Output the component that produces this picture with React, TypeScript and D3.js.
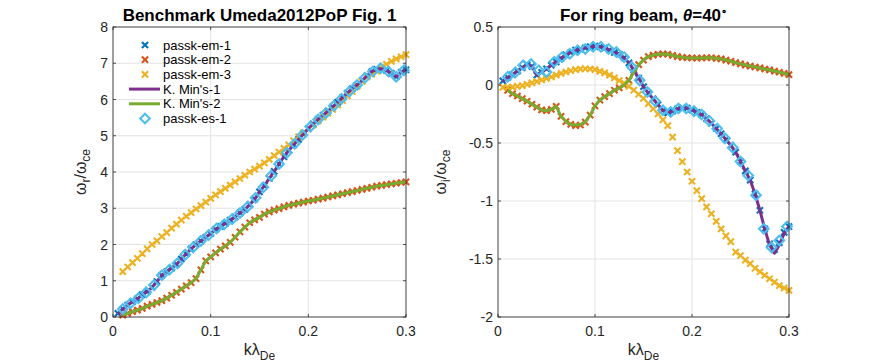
import * as d3 from "d3";

// k grid shared by the passk-em runs and K. Min's curves
const K = [
  0.005, 0.01, 0.015, 0.02, 0.025, 0.03, 0.035, 0.04, 0.045, 0.05,
  0.055, 0.06, 0.065, 0.07, 0.075, 0.08, 0.085, 0.09, 0.095, 0.1,
  0.105, 0.11, 0.115, 0.12, 0.125, 0.13, 0.135, 0.14, 0.145, 0.15,
  0.155, 0.16, 0.165, 0.17, 0.175, 0.18, 0.185, 0.19, 0.195, 0.2,
  0.205, 0.21, 0.215, 0.22, 0.225, 0.23, 0.235, 0.24, 0.245, 0.25,
  0.255, 0.26, 0.265, 0.27, 0.275, 0.28, 0.285, 0.29, 0.295, 0.3,
];
// k grid of the passk-es run
const KD = [
  0.01, 0.018, 0.026, 0.034, 0.042, 0.05, 0.058, 0.066, 0.074, 0.082,
  0.09, 0.098, 0.106, 0.114, 0.122, 0.13, 0.138, 0.146, 0.154, 0.162,
  0.17, 0.178, 0.186, 0.194, 0.202, 0.21, 0.218, 0.226, 0.234, 0.242,
  0.25, 0.258, 0.266, 0.274, 0.282, 0.29, 0.298,
];

// ---- real part, w_r / w_ce ----
const WR_EM1 = [
  0.1, 0.22, 0.33, 0.42, 0.5, 0.62, 0.7, 0.82, 0.98, 1.15,
  1.25, 1.35, 1.45, 1.6, 1.75, 1.88, 2.0, 2.1, 2.2, 2.3,
  2.42, 2.5, 2.58, 2.67, 2.76, 2.87, 2.97, 3.1, 3.25, 3.45,
  3.62, 3.82, 4.02, 4.22, 4.42, 4.6, 4.75, 4.9, 5.05, 5.2,
  5.33, 5.45, 5.56, 5.68, 5.8, 5.92, 6.05, 6.18, 6.3, 6.4,
  6.52, 6.65, 6.77, 6.83, 6.85, 6.8, 6.72, 6.63, 6.75, 6.82,
];
const WR_EM2 = [
  null, 0.05, 0.1, 0.15, 0.19, 0.24, 0.3, 0.35, 0.4, 0.45,
  0.52, 0.6, 0.68, 0.77, 0.86, 0.95, 1.06, 1.3, 1.55, 1.66,
  1.77, 1.87, 1.96, 2.06, 2.2, 2.35, 2.48, 2.6, 2.68, 2.75,
  2.84, 2.9, 2.95, 2.99, 3.04, 3.08, 3.11, 3.14, 3.17, 3.2,
  3.22, 3.25, 3.28, 3.31, 3.34, 3.37, 3.4, 3.43, 3.46, 3.49,
  3.52, 3.55, 3.58, 3.61, 3.63, 3.65, 3.67, 3.69, 3.71, 3.73,
];
const WR_EM3 = [
  null, 1.25, 1.38, 1.5, 1.62, 1.75, 1.88, 2.0, 2.1, 2.22,
  2.33, 2.45, 2.56, 2.67, 2.78, 2.88, 2.98, 3.07, 3.17, 3.27,
  3.37, 3.46, 3.55, 3.64, 3.73, 3.82, 3.91, 4.0, 4.08, 4.16,
  4.25, 4.35, 4.45, 4.55, 4.65, 4.75, 4.86, 4.97, 5.08, 5.19,
  5.3, 5.41, 5.51, 5.62, 5.73, 5.85, 5.97, 6.1, 6.22, 6.36,
  6.5, 6.62, 6.7, 6.78, 6.88, 6.97, 7.05, 7.12, 7.18, 7.24,
];
const WR_MIN1 = [
  0.08, 0.22, 0.33, 0.42, 0.5, 0.62, 0.7, 0.82, 0.98, 1.15,
  1.25, 1.35, 1.45, 1.6, 1.75, 1.88, 2.0, 2.1, 2.2, 2.3,
  2.42, 2.5, 2.58, 2.67, 2.76, 2.87, 2.97, 3.1, 3.25, 3.45,
  3.62, 3.82, 4.02, 4.22, 4.42, 4.6, 4.75, 4.9, 5.05, 5.2,
  5.33, 5.45, 5.56, 5.68, 5.8, 5.92, 6.05, 6.18, 6.3, 6.4,
  6.52, 6.65, 6.77, 6.83, 6.85, 6.8, 6.72, 6.63, 6.75, 6.82,
];
const WR_MIN2 = [
  null, 0.05, 0.1, 0.15, 0.19, 0.24, 0.3, 0.35, 0.4, 0.45,
  0.52, 0.6, 0.68, 0.77, 0.86, 0.95, 1.06, 1.3, 1.55, 1.66,
  1.77, 1.87, 1.96, 2.06, 2.2, 2.35, 2.48, 2.6, 2.68, 2.75,
  2.84, 2.9, 2.95, 2.99, 3.04, 3.08, 3.11, 3.14, 3.17, 3.2,
  3.22, 3.25, 3.28, 3.31, 3.34, 3.37, 3.4, 3.43, 3.46, 3.49,
  3.52, 3.55, 3.58, 3.61, 3.63, 3.65, 3.67, 3.69, 3.71, 3.73,
];
const WR_ES1 = [
  0.22, 0.38, 0.52, 0.68, 0.88, 1.15, 1.31, 1.48, 1.72, 1.92,
  2.1, 2.26, 2.44, 2.56, 2.7, 2.87, 3.05, 3.29, 3.58, 3.9,
  4.22, 4.53, 4.78, 5.02, 5.25, 5.45, 5.63, 5.82, 6.02, 6.22,
  6.4, 6.6, 6.77, 6.86, 6.77, 6.63, 6.81,
];

// ---- imaginary part, w_i / w_ce ----
const WI_EM1 = [
  0.035, 0.065, 0.09, 0.12, 0.15, 0.175, 0.16, 0.085, 0.11, 0.14,
  0.17, 0.2, 0.23, 0.26, 0.28, 0.3, 0.31, 0.32, 0.33, 0.335,
  0.33, 0.32, 0.3, 0.28, 0.265, 0.235, 0.19, 0.13, 0.06, -0.015,
  -0.07, -0.12, -0.17, -0.22, -0.24, -0.225, -0.205, -0.195, -0.2, -0.215,
  -0.235, -0.255, -0.29, -0.33, -0.375, -0.42, -0.47, -0.52, -0.58, -0.66,
  -0.74, -0.82, -0.94, -1.08, -1.24, -1.37, -1.42, -1.36, -1.27, -1.22,
];
const WI_EM2 = [
  null, -0.046, -0.075, -0.095, -0.117, -0.14, -0.166, -0.19, -0.215, -0.222,
  -0.21, -0.185, -0.27, -0.315, -0.34, -0.35, -0.345, -0.32, -0.26, -0.18,
  -0.13, -0.1, -0.075, -0.045, -0.025, 0.0, 0.04, 0.11, 0.175, 0.215,
  0.245, 0.258, 0.265, 0.268, 0.265, 0.255, 0.245, 0.238, 0.235, 0.233,
  0.232, 0.233, 0.235, 0.235, 0.23, 0.225, 0.215, 0.205, 0.193, 0.182,
  0.172, 0.163, 0.155, 0.147, 0.138, 0.13, 0.12, 0.11, 0.1, 0.09,
];
const WI_EM3 = [
  -0.02, -0.02, -0.018, -0.012, -0.005, 0.005, 0.018, 0.03, 0.043, 0.057,
  0.07, 0.085, 0.1, 0.112, 0.123, 0.132, 0.138, 0.14, 0.138, 0.133,
  0.118, 0.105, 0.085, 0.062, 0.038, 0.015, -0.012, -0.045, -0.08, -0.115,
  -0.16, -0.205, -0.25, -0.3, -0.35, -0.45, -0.565, -0.66, -0.75, -0.83,
  -0.91, -0.98, -1.05, -1.11, -1.175, -1.24, -1.3, -1.35, -1.44, -1.47,
  -1.51, -1.54, -1.58, -1.61, -1.64, -1.67, -1.7, -1.73, -1.75, -1.77,
];
const WI_MIN1 = [
  0.03, 0.065, 0.09, 0.12, 0.15, 0.175, 0.16, 0.085, 0.11, 0.14,
  0.17, 0.2, 0.23, 0.26, 0.28, 0.3, 0.31, 0.32, 0.33, 0.335,
  0.33, 0.32, 0.3, 0.28, 0.265, 0.235, 0.19, 0.13, 0.06, -0.015,
  -0.07, -0.12, -0.17, -0.22, -0.24, -0.225, -0.205, -0.195, -0.2, -0.215,
  -0.235, -0.255, -0.29, -0.33, -0.375, -0.42, -0.47, -0.52, -0.58, -0.66,
  -0.74, -0.82, -0.94, -1.08, -1.24, -1.38, -1.45, -1.38, -1.28, -1.22,
];
const WI_MIN2 = [
  null, -0.046, -0.075, -0.095, -0.117, -0.14, -0.166, -0.19, -0.215, -0.222,
  -0.21, -0.185, -0.27, -0.315, -0.34, -0.345, -0.34, -0.315, -0.26, -0.18,
  -0.13, -0.1, -0.075, -0.045, -0.025, 0.0, 0.04, 0.11, 0.175, 0.215,
  0.245, 0.258, 0.265, 0.268, 0.265, 0.255, 0.245, 0.238, 0.235, 0.233,
  0.232, 0.233, 0.235, 0.235, 0.23, 0.225, 0.215, 0.205, 0.193, 0.182,
  0.172, 0.163, 0.155, 0.147, 0.138, 0.13, 0.12, 0.11, 0.1, 0.09,
];
const WI_ES1 = [
  0.07, 0.11, 0.17, 0.18, 0.127, 0.112, 0.2, 0.24, 0.27, 0.3,
  0.31, 0.33, 0.33, 0.31, 0.285, 0.24, 0.155, 0.04, -0.06, -0.14,
  -0.218, -0.233, -0.203, -0.203, -0.225, -0.255, -0.31, -0.376, -0.46, -0.54,
  -0.66, -0.78, -0.95, -1.24, -1.4, -1.34, -1.22,
];

const LEGEND = ["passk-em-1", "passk-em-2", "passk-em-3", "K. Min's-1", "K. Min's-2", "passk-es-1"];
const X_TICKS = [0, 0.1, 0.2, 0.3];
const YR_TICKS = [0, 1, 2, 3, 4, 5, 6, 7, 8];
const YI_TICKS = [-2, -1.5, -1, -0.5, 0, 0.5];

const C = {
  blue: "#0072BD",
  orange: "#D95319",
  yellow: "#EDB120",
  purple: "#7E2F8E",
  green: "#77AC30",
  cyan: "#4DBEEE",
};
const AX = "#262626";
const FONT = "'Liberation Sans', Arial, Helvetica, sans-serif";
const TOP = 27;
const BOTTOM = 317;

type Series = { kind: "x" | "line" | "diamond"; color: string; xs: number[]; ys: (number | null)[] };

const crossPath = (s: number) => `M${-s},${-s}L${s},${s}M${-s},${s}L${s},${-s}`;
const diamondPath = (s: number) => `M0,${-s}L${s},0L0,${s}L${-s},0Z`;

function markerPath(kind: Series["kind"]) {
  return kind === "x" ? crossPath(3.1) : diamondPath(4.8);
}

function Marks({ s, x, y }: { s: Series; x: d3.ScaleLinear<number, number>; y: d3.ScaleLinear<number, number> }) {
  const pts = s.xs.map((k, i) => [k, s.ys[i]] as [number, number | null]);
  if (s.kind === "line") {
    const line = d3
      .line<[number, number | null]>()
      .defined((d) => d[1] != null)
      .x((d) => x(d[0]))
      .y((d) => y(d[1] as number));
    return <path d={line(pts) || ""} fill="none" stroke={s.color} strokeWidth={3} strokeLinejoin="round" />;
  }
  return (
    <g>
      {pts
        .filter((d) => d[1] != null)
        .map((d, i) => (
          <path
            key={i}
            transform={`translate(${x(d[0])},${y(d[1] as number)})`}
            d={markerPath(s.kind)}
            fill="none"
            stroke={s.color}
            strokeWidth={2.1}
          />
        ))}
    </g>
  );
}

function Panel(props: {
  left: number;
  right: number;
  domain: [number, number];
  ticks: number[];
  series: Series[];
  title: React.ReactNode;
  sub: string;
  ylabX: number;
  legend?: boolean;
}) {
  const { left, right, domain, ticks, series } = props;
  const x = d3.scaleLinear().domain([0, 0.3]).range([left, right]);
  const y = d3.scaleLinear().domain(domain).range([BOTTOM, TOP]);
  const cx = (left + right) / 2;
  const cy = (TOP + BOTTOM) / 2;
  const tl = 3;
  return (
    <g fontFamily={FONT}>
      {/* grid */}
      {X_TICKS.map((t) => (
        <line key={"gx" + t} x1={x(t)} x2={x(t)} y1={TOP} y2={BOTTOM} stroke="#e3e3e3" strokeWidth={1} />
      ))}
      {ticks.map((t) => (
        <line key={"gy" + t} x1={left} x2={right} y1={y(t)} y2={y(t)} stroke="#e3e3e3" strokeWidth={1} />
      ))}
      {series.map((s, i) => (
        <Marks key={i} s={s} x={x} y={y} />
      ))}
      {/* box and ticks */}
      <rect x={left} y={TOP} width={right - left} height={BOTTOM - TOP} fill="none" stroke={AX} strokeWidth={0.8} />
      {X_TICKS.map((t) => (
        <g key={"tx" + t}>
          <line x1={x(t)} x2={x(t)} y1={BOTTOM} y2={BOTTOM - tl} stroke={AX} strokeWidth={0.8} />
          <line x1={x(t)} x2={x(t)} y1={TOP} y2={TOP + tl} stroke={AX} strokeWidth={0.8} />
          <text x={x(t)} y={BOTTOM + 19} textAnchor="middle" fontSize={14} fill={AX}>
            {String(t)}
          </text>
        </g>
      ))}
      {ticks.map((t) => (
        <g key={"ty" + t}>
          <line x1={left} x2={left + tl} y1={y(t)} y2={y(t)} stroke={AX} strokeWidth={0.8} />
          <line x1={right} x2={right - tl} y1={y(t)} y2={y(t)} stroke={AX} strokeWidth={0.8} />
          <text x={left - 5} y={y(t)} dy="0.36em" textAnchor="end" fontSize={14} fill={AX}>
            {String(t)}
          </text>
        </g>
      ))}
      {/* title */}
      <text x={cx} y={21} textAnchor="middle" fontSize={17} fontWeight="bold" fill="#000">
        {props.title}
      </text>
      {/* x label */}
      <text x={cx} y={355} textAnchor="middle" fontSize={16} fill={AX}>
        kλ<tspan dy={5} fontSize={12}>De</tspan>
      </text>
      {/* y label */}
      <text transform={`translate(${props.ylabX},${cy}) rotate(-90)`} textAnchor="middle" fontSize={16} fill={AX}>
        ω<tspan dy={4} fontSize={12}>{props.sub}</tspan>
        <tspan dy={-4}>/ω</tspan>
        <tspan dy={4} fontSize={12}>ce</tspan>
      </text>
      {props.legend && (
        <g>
          {LEGEND.map((name, i) => {
            const s = series[i];
            const ly = 45 + i * 14.7;
            return (
              <g key={name}>
                {s.kind === "line" ? (
                  <line x1={129} x2={160} y1={ly} y2={ly} stroke={s.color} strokeWidth={3} />
                ) : (
                  <path
                    transform={`translate(145,${ly})`}
                    d={markerPath(s.kind)}
                    fill="none"
                    stroke={s.color}
                    strokeWidth={2.1}
                  />
                )}
                <text x={163} y={ly} dy="0.36em" fontSize={13} fill="#000">
                  {name}
                </text>
              </g>
            );
          })}
        </g>
      )}
    </g>
  );
}

export default function App() {
  const realSeries: Series[] = [
    { kind: "x", color: C.blue, xs: K, ys: WR_EM1 },
    { kind: "x", color: C.orange, xs: K, ys: WR_EM2 },
    { kind: "x", color: C.yellow, xs: K, ys: WR_EM3 },
    { kind: "line", color: C.purple, xs: K, ys: WR_MIN1 },
    { kind: "line", color: C.green, xs: K, ys: WR_MIN2 },
    { kind: "diamond", color: C.cyan, xs: KD, ys: WR_ES1 },
  ];
  const imagSeries: Series[] = [
    { kind: "x", color: C.blue, xs: K, ys: WI_EM1 },
    { kind: "x", color: C.orange, xs: K, ys: WI_EM2 },
    { kind: "x", color: C.yellow, xs: K, ys: WI_EM3 },
    { kind: "line", color: C.purple, xs: K, ys: WI_MIN1 },
    { kind: "line", color: C.green, xs: K, ys: WI_MIN2 },
    { kind: "diamond", color: C.cyan, xs: KD, ys: WI_ES1 },
  ];
  return (
    <svg width={872} height={363} style={{ position: "absolute", left: 0, top: 0, background: "#fff" }}>
      <rect width={872} height={363} fill="#fff" />
      <Panel
        left={113}
        right={406}
        domain={[0, 8]}
        ticks={YR_TICKS}
        series={realSeries}
        title="Benchmark Umeda2012PoP Fig. 1"
        sub="r"
        ylabX={86}
        legend
      />
      <Panel
        left={498}
        right={789}
        domain={[-2, 0.5]}
        ticks={YI_TICKS}
        series={imagSeries}
        title={
          <>
            For ring beam, <tspan fontStyle="italic">θ</tspan>=40
            <tspan dy={-7} fontSize={10}>∘</tspan>
          </>
        }
        sub="i"
        ylabX={446}
      />
    </svg>
  );
}
